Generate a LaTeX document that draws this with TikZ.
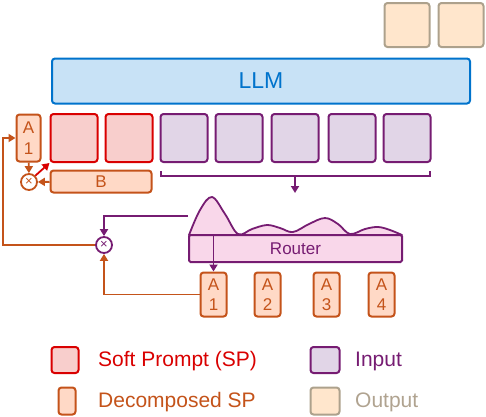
\documentclass[tikz,border=0pt]{standalone}
\usepackage{fontspec}
\setmainfont{Liberation Sans}
\usetikzlibrary{arrows.meta}
\definecolor{spred}{HTML}{D90000}
\definecolor{spfill}{HTML}{F8CECC}
\definecolor{inpurple}{HTML}{761C72}
\definecolor{infill}{HTML}{E1D5E7}
\definecolor{decor}{HTML}{C4531A}
\definecolor{decfill}{HTML}{FFD9C6}
\definecolor{outbord}{HTML}{ADA18C}
\definecolor{outtext}{HTML}{B0A390}
\definecolor{outfill}{HTML}{FFE6CC}
\definecolor{llmblue}{HTML}{0073CC}
\definecolor{llmfill}{HTML}{C8E2F6}
\definecolor{routfill}{HTML}{F9D7EA}
\tikzset{
  box/.style={draw, line width=2pt, rounded corners=3pt, inner sep=0pt, align=center},
  spbox/.style={box, draw=spred, fill=spfill, minimum width=47pt, minimum height=48pt},
  inbox/.style={box, draw=inpurple, fill=infill, minimum width=47pt, minimum height=48pt},
  outbox/.style={box, draw=outbord, fill=outfill, minimum width=45pt, minimum height=44pt},
  decbox/.style={box, draw=decor, fill=decfill, text=decor, font=\fontsize{17}{20.5}\selectfont},
  mult/.style={circle, draw, line width=1.8pt, fill=white, minimum size=16pt, inner sep=0pt, font=\fontsize{13}{13}\selectfont},
  arr/.style={-{Triangle[length=7pt,width=8pt]}, line width=1.8pt},
  ln/.style={line width=1.8pt},
  legtext/.style={anchor=west, font=\fontsize{21}{24}\selectfont, inner sep=0pt}
}
\begin{document}
\begin{tikzpicture}[x=1pt,y=-1pt]
\useasboundingbox (0,0) rectangle (486,416);
% outputs
\node[outbox] (o1) at (407,25) {};
\node[outbox] (o2) at (461,25) {};
% LLM
\node[box, draw=llmblue, fill=llmfill, minimum width=418pt, minimum height=45pt, text=llmblue, font=\fontsize{23}{26}\selectfont] (llm) at (261,81) {LLM};
% soft prompts
\node[spbox] (sp1) at (74,138) {};
\node[spbox] (sp2) at (129,138) {};
% inputs
\node[inbox] (in1) at (184,138) {};
\node[inbox] (in2) at (239,138) {};
\node[inbox] (in3) at (295,138) {};
\node[inbox] (in4) at (352,138) {};
\node[inbox] (in5) at (407,138) {};
% decomposed left
\node[decbox, minimum width=24pt, minimum height=47pt] (al) at (28.5,138) {A\\1};
\node[mult, draw=decor, text=decor] (c1) at (29,182) {×};
\node[decbox, minimum width=101pt, minimum height=22pt] (b) at (101,181.5) {B};
\draw[arr, decor] (al) -- (c1);
\draw[arr, decor] (b) -- (c1);
\draw[arr, spred] (c1.north east) -- (sp1.south west);
% brace
\coordinate (bl) at (161,171);
\coordinate (br) at (430,171);
\coordinate (bm) at (295,176);
\coordinate (bd) at (295,193);
\draw[ln, inpurple] (bl) -- ++(0,5) -| (br);
\draw[arr, inpurple] (bm) -- (bd);
% router curve
\draw[ln, inpurple, fill=routfill, line join=round]
  plot[smooth, tension=0.6] coordinates {(189,235) (200,210) (212,197) (225,214) (238,234) (252,229) (267,225) (280,228) (293,232) (309,224) (325,218) (338,224) (350,234) (365,229) (378,227) (390,230) (402,235)} -- cycle;
\node[box, rounded corners=1.5pt, draw=inpurple, fill=routfill, minimum width=213pt, minimum height=27pt, text=inpurple, font=\fontsize{17}{20}\selectfont] (rt) at (295.5,248.5) {Router};
% A boxes
\node[decbox, minimum width=26pt, minimum height=44pt] (ab1) at (213.5,294.5) {A\\1};
\node[decbox, minimum width=26pt, minimum height=44pt] (ab2) at (267.5,294.5) {A\\2};
\node[decbox, minimum width=26pt, minimum height=44pt] (ab3) at (326.5,294.5) {A\\3};
\node[decbox, minimum width=26pt, minimum height=44pt] (ab4) at (381.5,294.5) {A\\4};
\draw[arr, inpurple] (ab1.north |- rt.north) -- (ab1.north);
% second multiply
\node[mult, draw=inpurple, text=inpurple] (c2) at (104,245) {×};
\coordinate (rs) at (188,216);
\draw[arr, inpurple] (rs) -| (c2);
\draw[arr, decor] (ab1.west) -| (c2);
\coordinate (lc) at (3,245);
\draw[arr, decor] (c2) -- (lc) |- (al.west);
% legend
\node[spbox, minimum width=27pt, minimum height=26pt] (lsp) at (65,360) {};
\node[legtext, text=spred] (tsp) at (98,361) {Soft Prompt (SP)};
\node[inbox, minimum width=29pt, minimum height=26pt] (lin) at (325,360) {};
\node[legtext, text=inpurple] (tin) at (355,361) {Input};
\node[box, draw=decor, fill=decfill, minimum width=17pt, minimum height=27pt] (ldec) at (67,401) {};
\node[legtext, text=decor] (tdec) at (98,402) {Decomposed SP};
\node[outbox, minimum width=29pt, minimum height=27pt] (lout) at (325,401) {};
\node[legtext, text=outtext] (tout) at (355,402) {Output};
\end{tikzpicture}
\end{document}
